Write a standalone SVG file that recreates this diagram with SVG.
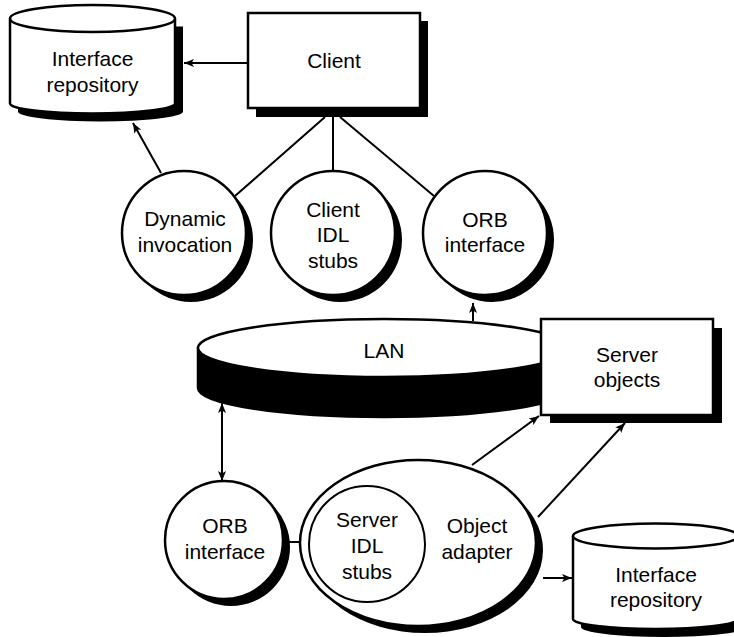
<svg xmlns="http://www.w3.org/2000/svg" width="734" height="637" viewBox="0 0 734 637">
<style>
  .shape { fill: #fff; stroke: #000; stroke-width: 2.5; }
  .thin { fill: #fff; stroke: #000; stroke-width: 2; }
  .shadow { fill: #000; stroke: none; }
  .band { fill: #000; stroke: #000; stroke-width: 2.5; }
  .lbl { font-family: "Liberation Sans", Arial, sans-serif; font-size: 21px; fill: #000; text-anchor: middle; }
  .conn { fill: none; stroke: #000; stroke-width: 2; }
  .arrow { fill: none; stroke: #000; stroke-width: 2; marker-end: url(#ah); }
  .darrow { fill: none; stroke: #000; stroke-width: 2; marker-end: url(#ah); marker-start: url(#ah); }
</style>
<defs>
  <marker id="ah" viewBox="0 0 10 8" refX="10" refY="4" markerWidth="10" markerHeight="8" markerUnits="userSpaceOnUse" orient="auto-start-reverse">
    <path d="M0,0 L10,4 L0,8 L2.5,4 Z" fill="#000"/>
  </marker>
</defs>

<g id="ir-top">
  <path class="shadow" d="M18,26.5 L18,111.5 A82.5,10 0 0 0 183,111.5 L183,26.5 Z"/>
  <path class="shape" d="M10,18.5 L10,103.5 A82.5,10 0 0 0 175,103.5 L175,18.5"/>
  <ellipse class="shape" cx="92.5" cy="18.5" rx="82.5" ry="13.5"/>
  <text class="lbl" x="92.5" y="66">Interface</text>
  <text class="lbl" x="92.5" y="92">repository</text>
</g>

<g id="client">
  <rect class="shadow" x="256" y="21" width="172" height="96"/>
  <rect class="shape" x="248" y="13" width="172" height="95"/>
  <text class="lbl" x="334" y="68">Client</text>
</g>

<g id="dynamic-invocation">
  <circle class="shadow" cx="191" cy="240" r="62"/>
  <circle class="shape" cx="184" cy="233" r="62"/>
  <text class="lbl" x="185" y="226">Dynamic</text>
  <text class="lbl" x="185" y="252">invocation</text>
</g>

<g id="client-idl-stubs">
  <circle class="shadow" cx="340" cy="240" r="62"/>
  <circle class="shape" cx="333" cy="233" r="62"/>
  <text class="lbl" x="333" y="217">Client</text>
  <text class="lbl" x="333" y="242">IDL</text>
  <text class="lbl" x="333" y="268">stubs</text>
</g>

<g id="orb-interface-top">
  <circle class="shadow" cx="492" cy="240" r="62"/>
  <circle class="shape" cx="485" cy="233" r="62"/>
  <text class="lbl" x="485" y="227">ORB</text>
  <text class="lbl" x="485" y="252">interface</text>
</g>

<g id="lan">
  <path class="band" d="M198,348 L198,388 A186,29 0 0 0 570,388 L570,348 Z"/>
  <ellipse class="shape" cx="384" cy="348" rx="186" ry="29"/>
  <text class="lbl" x="384" y="358">LAN</text>
</g>

<g id="server-objects">
  <rect class="shadow" x="550" y="328" width="172" height="95"/>
  <rect class="shape" x="541" y="319" width="172" height="96"/>
  <text class="lbl" x="627" y="362">Server</text>
  <text class="lbl" x="627" y="387">objects</text>
</g>

<g id="orb-interface-bottom">
  <circle class="shadow" cx="231" cy="547" r="59"/>
  <circle class="shape" cx="224" cy="540" r="59"/>
  <text class="lbl" x="225" y="533">ORB</text>
  <text class="lbl" x="225" y="559">interface</text>
</g>

<g id="object-adapter">
  <ellipse class="shadow" cx="425" cy="550" rx="118" ry="83"/>
  <ellipse class="shape" cx="418" cy="543" rx="118" ry="83"/>
  <text class="lbl" x="477" y="533">Object</text>
  <text class="lbl" x="477" y="559">adapter</text>
</g>

<g id="server-idl-stubs">
  <circle class="thin" cx="367" cy="544" r="58"/>
  <text class="lbl" x="367" y="527">Server</text>
  <text class="lbl" x="367" y="553">IDL</text>
  <text class="lbl" x="367" y="579">stubs</text>
</g>

<g id="ir-bottom">
  <path class="shadow" d="M581,544 L581,627 A82.5,10 0 0 0 746,627 L746,544 Z"/>
  <path class="shape" d="M573,536 L573,619 A82.5,10 0 0 0 738,619 L738,536"/>
  <ellipse class="shape" cx="655.5" cy="536" rx="82.5" ry="12.5"/>
  <text class="lbl" x="656" y="582">Interface</text>
  <text class="lbl" x="656" y="607">repository</text>
</g>

<g id="connectors">
  <line class="arrow" x1="247" y1="63" x2="184" y2="63"/>
  <line class="conn" x1="325" y1="117" x2="235" y2="196"/>
  <line class="conn" x1="333" y1="117" x2="333" y2="171"/>
  <line class="conn" x1="340" y1="117" x2="434" y2="196"/>
  <line class="arrow" x1="161" y1="173" x2="133" y2="123"/>
  <line class="arrow" x1="473" y1="321" x2="473" y2="303"/>
  <line class="darrow" x1="222" y1="403" x2="222" y2="481"/>
  <line class="conn" x1="283" y1="542" x2="300" y2="542"/>
  <line class="arrow" x1="472" y1="465" x2="539" y2="416"/>
  <line class="arrow" x1="538" y1="517" x2="625" y2="423"/>
  <line class="arrow" x1="543" y1="578" x2="572" y2="578"/>
</g>
</svg>
